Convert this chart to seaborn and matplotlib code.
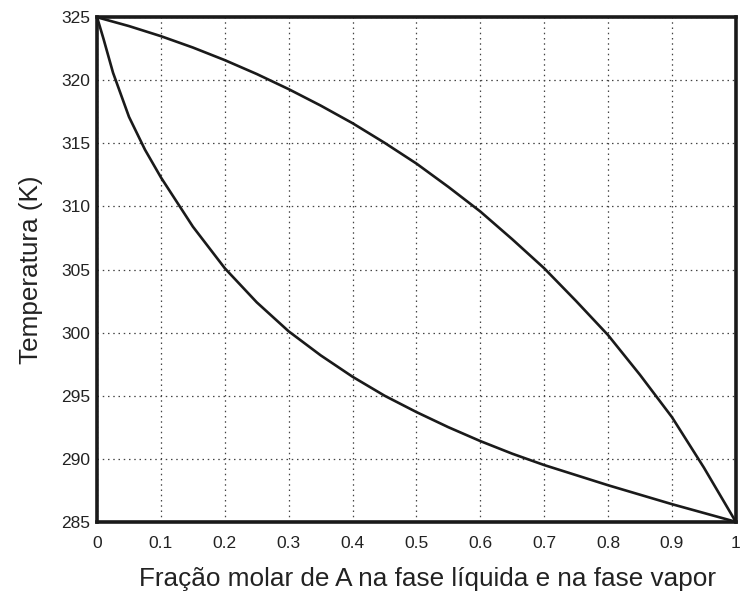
import matplotlib
matplotlib.use("Agg")
import matplotlib.pyplot as plt
import seaborn as sns
import pandas as pd

# Vapour (dew) curve: mole fraction of A vs temperature
x_vapor = [0.0, 0.05, 0.1, 0.15, 0.2, 0.25, 0.3, 0.35, 0.4, 0.45, 0.5,
           0.55, 0.6, 0.65, 0.7, 0.75, 0.8, 0.85, 0.9, 0.95, 1.0]
t_vapor = [325.0, 324.3, 323.5, 322.6, 321.6, 320.5, 319.3, 318.0, 316.6, 315.05, 313.4,
           311.55, 309.6, 307.4, 305.1, 302.5, 299.8, 296.65, 293.3, 289.3, 285.0]

# Liquid (bubble) curve
x_liquid = [0.0, 0.01, 0.025, 0.05, 0.075, 0.1, 0.15, 0.2, 0.25, 0.3, 0.35, 0.4, 0.45, 0.5,
            0.55, 0.6, 0.65, 0.7, 0.75, 0.8, 0.85, 0.9, 0.95, 1.0]
t_liquid = [325.0, 323.3, 320.6, 317.1, 314.5, 312.3, 308.4, 305.1, 302.4, 300.1, 298.2,
            296.5, 295.0, 293.7, 292.5, 291.4, 290.4, 289.5, 288.7, 287.9, 287.15, 286.4,
            285.7, 285.0]

x_ticks = [0, 0.1, 0.2, 0.3, 0.4, 0.5, 0.6, 0.7, 0.8, 0.9, 1]
x_tick_labels = ["0", "0.1", "0.2", "0.3", "0.4", "0.5", "0.6", "0.7", "0.8", "0.9", "1"]
y_ticks = [285, 290, 295, 300, 305, 310, 315, 320, 325]

sns.set_theme(style="white")
plt.rcParams["font.family"] = ["Liberation Sans", "DejaVu Sans"]

fig = plt.figure(figsize=(7.41, 5.95), dpi=100)
ax = fig.add_axes([0.131, 0.123, 0.862, 0.848])

vapor = pd.DataFrame({"x": x_vapor, "T": t_vapor})
liquid = pd.DataFrame({"x": x_liquid, "T": t_liquid})
sns.lineplot(data=vapor, x="x", y="T", ax=ax, color="#1a1a1a", lw=1.9, zorder=3)
sns.lineplot(data=liquid, x="x", y="T", ax=ax, color="#1a1a1a", lw=1.9, zorder=3)

ax.set_xlim(0, 1)
ax.set_ylim(285, 325)
ax.set_xticks(x_ticks)
ax.set_xticklabels(x_tick_labels)
ax.set_yticks(y_ticks)

ax.grid(True, color="#444444", linestyle=(0, (1.2, 3.0)), linewidth=0.9)
ax.tick_params(axis="both", length=0, labelsize=12.5, colors="#222222")
ax.tick_params(axis="x", pad=10)
ax.tick_params(axis="y", pad=5)

for s in ax.spines.values():
    s.set_visible(True)
    s.set_color("#1a1a1a")
    s.set_linewidth(2.6)

ax.set_xlabel("Fração molar de A na fase líquida e na fase vapor", fontsize=18.8,
              color="#222222", labelpad=12)
ax.xaxis.label.set_x(0.518)
ax.set_ylabel("Temperatura (K)", fontsize=18.8, color="#222222", labelpad=13)

fig.savefig("out.png", dpi=100, facecolor="white")
